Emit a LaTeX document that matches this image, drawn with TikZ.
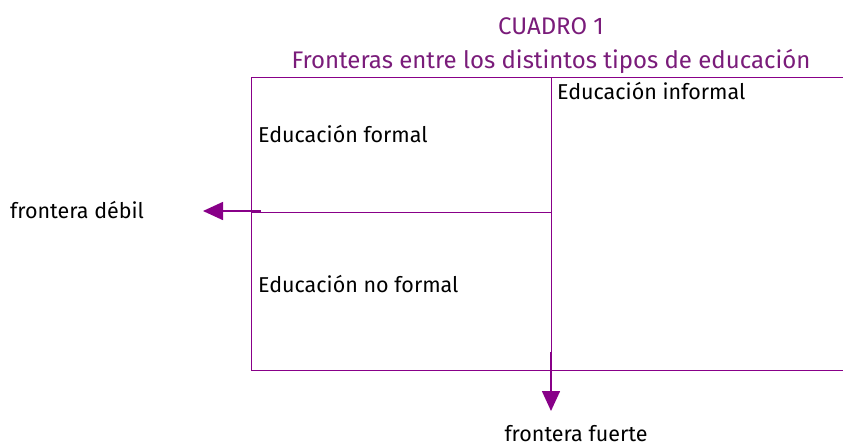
\documentclass[tikz,border=0pt]{standalone}
\usepackage{fontspec}
\setmainfont{Fira Sans}
\usetikzlibrary{arrows.meta}
\definecolor{lin}{HTML}{880088}
\definecolor{ttl}{HTML}{7A1C7A}
\begin{document}
\begin{tikzpicture}[x=1pt,y=-1pt,
  frame/.style={draw=lin,line width=0.8pt},
  arr/.style={draw=lin,line width=1.6pt,-{Triangle[length=20pt,width=18pt]}},
  lbl/.style={inner sep=0pt,font=\fontsize{21.5}{24}\selectfont},
  title/.style={inner sep=0pt,text=ttl,font=\fontsize{24}{28}\selectfont}]
\useasboundingbox (0,0) rectangle (843,447);
% frame
\coordinate (tl) at (251,77);
\coordinate (tr) at (843,77);
\coordinate (bl) at (251,370);
\coordinate (br) at (843,370);
\coordinate (mt) at (551,77);
\coordinate (mbot) at (551,370);
\coordinate (ml) at (251,212);
\coordinate (mr) at (551,212);
\draw[frame] (tr) -- (tl) -- (bl) -- (br);
\draw[frame] (mt) -- (mbot);
\draw[frame] (ml) -- (mr);
% title
\node[title,anchor=base] (t1) at (551,34) {CUADRO 1};
\node[title,anchor=base] (t2) at (551,68) {Fronteras entre los distintos tipos de educación};
% labels
\node[lbl,anchor=base west] (ef) at (258,142) {Educación formal};
\node[lbl,anchor=base west] (enf) at (258,292) {Educación no formal};
\node[lbl,anchor=base west] (ei) at (557,99) {Educación informal};
\node[lbl,anchor=base west] (fd) at (10,218) {frontera débil};
\node[lbl,anchor=base] (ff) at (576,441) {frontera fuerte};
% arrows
\coordinate (as) at (261,211);
\coordinate (ae) at (203,211);
\draw[arr] (as) -- (ae);
\coordinate (ds) at (551,352);
\coordinate (de) at (551,411);
\draw[arr] (ds) -- (de);
\end{tikzpicture}
\end{document}
